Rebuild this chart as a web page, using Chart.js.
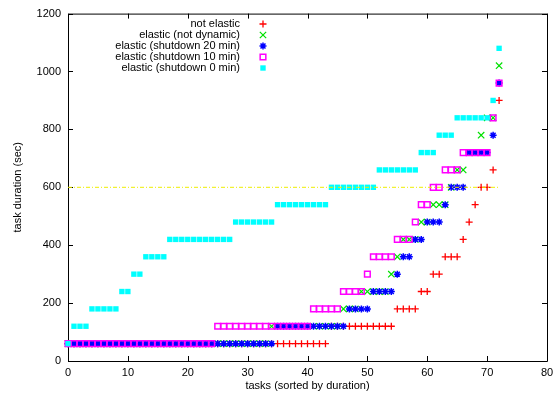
<!DOCTYPE html>
<html>
<head>
<meta charset="utf-8">
<script src="https://cdn.jsdelivr.net/npm/chart.js@4.4.1/dist/chart.umd.min.js"></script>
<style>
  html, body { margin: 0; padding: 0; background: #fff; }
</style>
</head>
<body>
<canvas id="durasiChart" width="560" height="397"></canvas>
<script>
const xTicks = [0, 10, 20, 30, 40, 50, 60, 70, 80];
const yTicks = [0, 200, 400, 600, 800, 1000, 1200];

// durasi tiap task (detik), sudah diurutkan, task 0..72
const notElastic = [
    60, 60, 60, 60, 60, 60, 60, 60, 60, 60,
    60, 60, 60, 60, 60, 60, 60, 60, 60, 60,
    60, 60, 60, 60, 60, 60, 60, 60, 60, 60,
    60, 60, 60, 60, 60, 60, 60, 60, 60, 60,
    60, 60, 60, 60, 120, 120, 120, 120, 120, 120,
    120, 120, 120, 120, 120, 180, 180, 180, 180, 240,
    240, 300, 300, 360, 360, 360, 420, 480, 540, 600,
    600, 660, 900
];
const notDynamic = [
    60, 60, 60, 60, 60, 60, 60, 60, 60, 60,
    60, 60, 60, 60, 60, 60, 60, 60, 60, 60,
    60, 60, 60, 60, 60, 60, 60, 60, 60, 60,
    60, 60, 60, 60, 120, 120, 120, 120, 120, 120,
    120, 120, 120, 120, 120, 120, 180, 180, 180, 240,
    240, 240, 240, 240, 300, 360, 420, 420, 420, 480,
    480, 540, 540, 540, 600, 660, 660, 720, 720, 780,
    840, 840, 1020
];
const shutdown20 = [
    60, 60, 60, 60, 60, 60, 60, 60, 60, 60,
    60, 60, 60, 60, 60, 60, 60, 60, 60, 60,
    60, 60, 60, 60, 60, 60, 60, 60, 60, 60,
    60, 60, 60, 60, 60, 120, 120, 120, 120, 120,
    120, 120, 120, 120, 120, 120, 120, 180, 180, 180,
    180, 240, 240, 240, 240, 300, 360, 360, 420, 420,
    480, 480, 480, 540, 600, 600, 600, 720, 720, 720,
    720, 780, 960
];
const shutdown10 = [
    60, 60, 60, 60, 60, 60, 60, 60, 60, 60,
    60, 60, 60, 60, 60, 60, 60, 60, 60, 60,
    60, 60, 60, 60, 60, 120, 120, 120, 120, 120,
    120, 120, 120, 120, 120, 120, 120, 120, 120, 120,
    120, 180, 180, 180, 180, 180, 240, 240, 240, 240,
    300, 360, 360, 360, 360, 420, 420, 420, 480, 540,
    540, 600, 600, 660, 660, 660, 720, 720, 720, 720,
    720, 840, 960
];
const shutdown0 = [
    60, 120, 120, 120, 180, 180, 180, 180, 180, 240,
    240, 300, 300, 360, 360, 360, 360, 420, 420, 420,
    420, 420, 420, 420, 420, 420, 420, 420, 480, 480,
    480, 480, 480, 480, 480, 540, 540, 540, 540, 540,
    540, 540, 540, 540, 600, 600, 600, 600, 600, 600,
    600, 600, 660, 660, 660, 660, 660, 660, 660, 720,
    720, 720, 780, 780, 780, 840, 840, 840, 840, 840,
    840, 900, 1080
];
// garis batas kuning
const garisLevel = 600;
const garisTask = [0, 72];

const FONT = { family: "'Liberation Sans', Arial, Helvetica, sans-serif", size: 11 };

function toPoints(arr) {
    return arr.map((v, i) => ({ x: i, y: v }));
}

const datasets = [
    {
        label: "not elastic",
        data: toPoints(notElastic),
        pointStyle: "cross", pointRadius: 3.5, pointBorderWidth: 1.3,
        borderColor: "#ff0000", backgroundColor: "#ff0000",
        order: 5
    },
    {
        label: "elastic (not dynamic)",
        data: toPoints(notDynamic),
        pointStyle: "crossRot", pointRadius: 4.5, pointBorderWidth: 1.2,
        borderColor: "#00e000", backgroundColor: "#00e000",
        order: 4
    },
    {
        label: "elastic (shutdown 20 min)",
        data: toPoints(shutdown20),
        pointStyle: "star", pointRadius: 3.5, pointBorderWidth: 1.5,
        borderColor: "#0000ff", backgroundColor: "#0000ff",
        order: 3
    },
    {
        label: "elastic (shutdown 10 min)",
        data: toPoints(shutdown10),
        pointStyle: "rect", pointRadius: 4.0, pointBorderWidth: 1.5,
        borderColor: "#ff00ff", backgroundColor: "rgba(0,0,0,0)",
        order: 2
    },
    {
        label: "elastic (shutdown 0 min)",
        data: toPoints(shutdown0),
        pointStyle: "rect", pointRadius: 3.8, pointBorderWidth: 0,
        borderColor: "#00ffff", backgroundColor: "#00ffff",
        order: 1
    },
    {
        type: "line",
        label: "",
        data: garisTask.map(t => ({ x: t, y: garisLevel })),
        borderColor: "#eeee00", borderWidth: 1,
        borderDash: [4, 2, 1, 2],
        pointRadius: 0,
        order: 0
    }
];
datasets.forEach(d => { d.clip = false; });

// bingkai + tick ke dalam (gaya gnuplot)
const bingkai = {
    id: "bingkai",
    beforeDatasetsDraw(chart) {
        const { ctx, chartArea: a, scales: { x, y } } = chart;
        ctx.save();
        ctx.strokeStyle = "#000";
        ctx.lineWidth = 1;
        ctx.beginPath();
        ctx.rect(a.left + 0.5, a.top + 0.5, a.right - a.left, a.bottom - a.top);
        xTicks.forEach(v => {
            const px = Math.round(x.getPixelForValue(v)) + 0.5;
            ctx.moveTo(px, a.bottom); ctx.lineTo(px, a.bottom - 5);
            ctx.moveTo(px, a.top); ctx.lineTo(px, a.top + 5);
        });
        yTicks.forEach(v => {
            const py = Math.round(y.getPixelForValue(v)) + 0.5;
            ctx.moveTo(a.left, py); ctx.lineTo(a.left + 5, py);
            ctx.moveTo(a.right, py); ctx.lineTo(a.right - 5, py);
        });
        ctx.stroke();
        ctx.restore();
    }
};

// legenda: teks rata kanan, simbol di sebelah kanan
const legendaKanan = {
    id: "legendaKanan",
    afterDraw(chart) {
        const ctx = chart.ctx;
        ctx.save();
        ctx.font = FONT.size + "px " + FONT.family;
        ctx.textAlign = "right";
        ctx.textBaseline = "middle";
        let row = 0;
        chart.data.datasets.forEach(ds => {
            if (!ds.label) return;
            const yy = 24 + row * 11;
            ctx.fillStyle = "#000";
            ctx.fillText(ds.label, 240, yy);
            ctx.strokeStyle = ds.borderColor;
            ctx.fillStyle = ds.backgroundColor;
            ctx.lineWidth = ds.pointBorderWidth;
            Chart.helpers.drawPoint(ctx, {
                pointStyle: ds.pointStyle, radius: ds.pointRadius,
                rotation: 0, borderWidth: ds.pointBorderWidth
            }, 263, yy);
            row++;
        });
        ctx.restore();
    }
};

const ctx = document.getElementById("durasiChart").getContext("2d");
const durasiChart = new Chart(ctx, {
    type: "scatter",
    data: { datasets: datasets },
    plugins: [bingkai, legendaKanan],
    options: {
        responsive: false,
        animation: false,
        events: [],
        layout: { padding: { top: 13, right: 13, left: 0, bottom: 0 } },
        plugins: {
            legend: { display: false },
            tooltip: { enabled: false }
        },
        scales: {
            x: {
                type: "linear", min: 0, max: 80,
                afterFit: s => { s.height = 36; },
                grid: { display: false, drawTicks: false },
                border: { display: false },
                ticks: { stepSize: 10, padding: 5, color: "#000", font: FONT, maxRotation: 0, callback: v => String(v) },
                title: { display: true, text: "tasks (sorted by duration)", color: "#000", font: FONT, padding: { top: 0, bottom: 4 } }
            },
            y: {
                type: "linear", min: 0, max: 1200,
                afterFit: s => { s.width = 68; },
                grid: { display: false, drawTicks: false },
                border: { display: false },
                ticks: { stepSize: 200, padding: 7, color: "#000", font: FONT, callback: v => String(v) },
                title: { display: true, text: "task duration (sec)", color: "#000", font: FONT, padding: { top: 11, bottom: 0 } }
            }
        }
    }
});
</script>
</body>
</html>
